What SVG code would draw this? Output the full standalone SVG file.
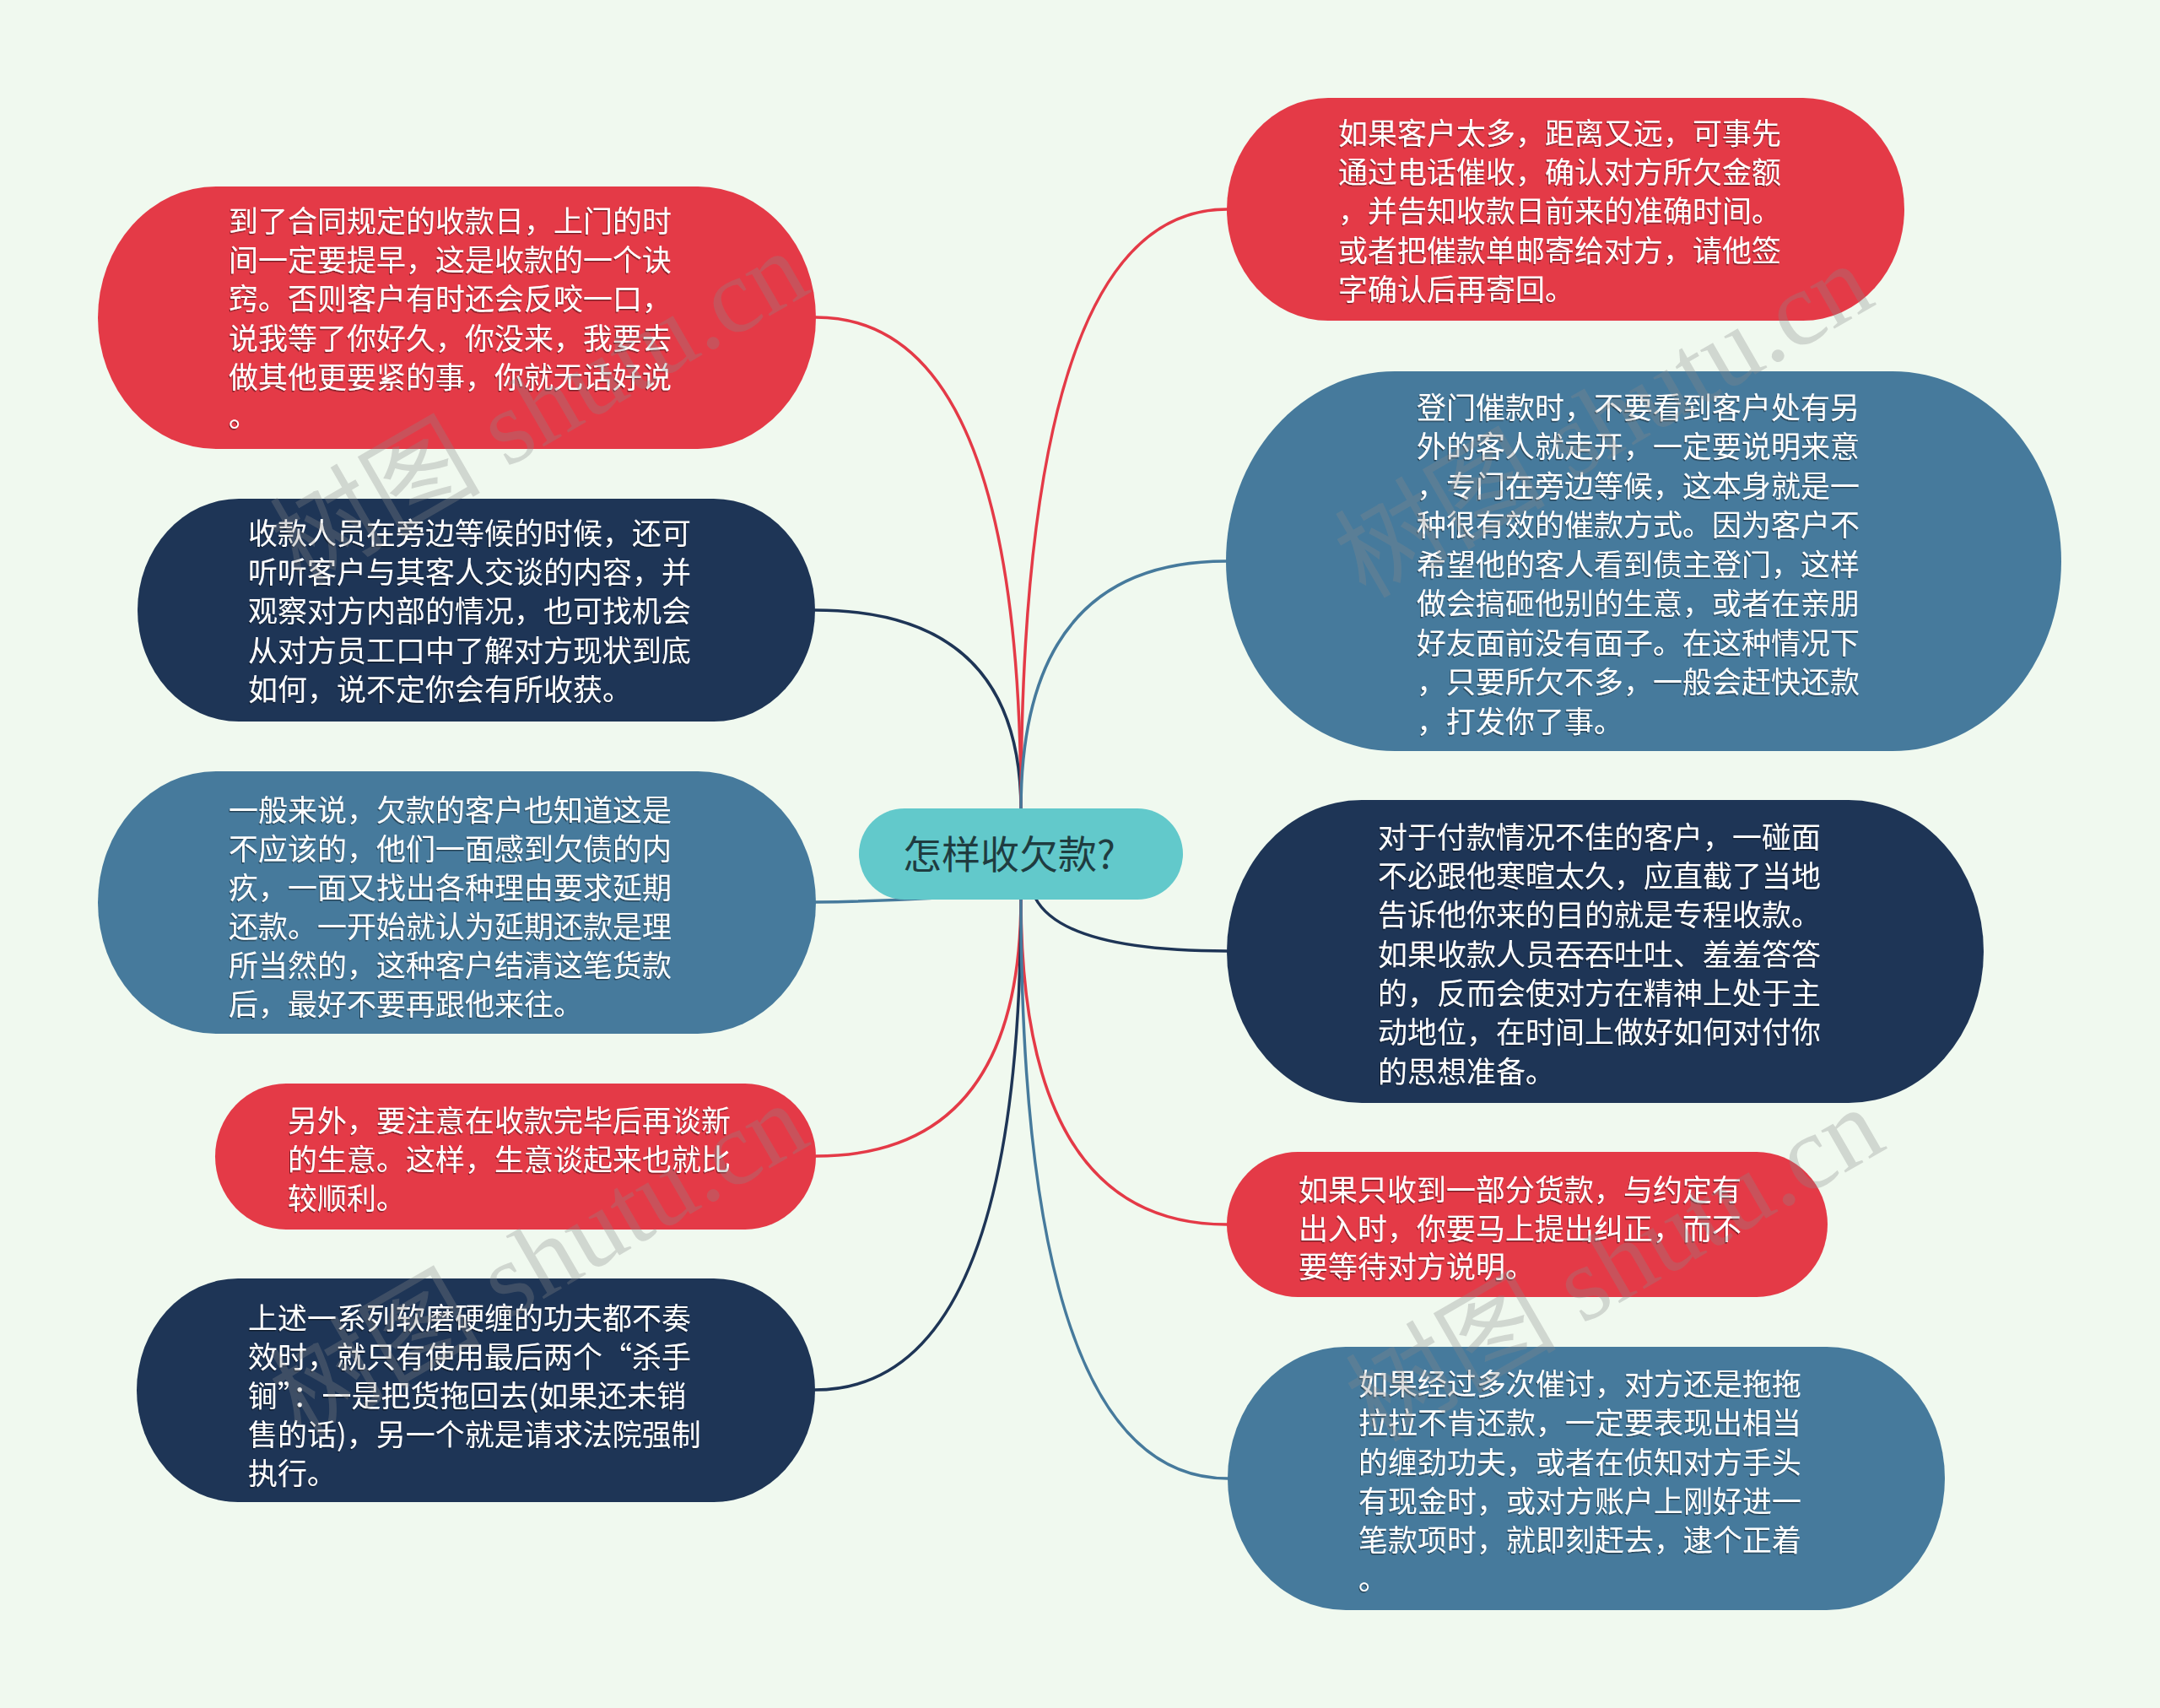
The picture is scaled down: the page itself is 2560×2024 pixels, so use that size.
<svg xmlns="http://www.w3.org/2000/svg" width="2560" height="2024" viewBox="0 0 2560 2024">
<defs>
<style>
.t{font-family:"Noto Sans CJK SC","Liberation Sans",sans-serif;font-size:35px;fill:#ffffff;filter:url(#sh);}
.c{fill:none;stroke-width:3.5;stroke-linecap:round;}
.red{fill:#e43a47;}
.navy{fill:#1e3556;}
.blue{fill:#467a9c;}
.sr{stroke:#e43a47;}
.sn{stroke:#1e3556;}
.sb{stroke:#467a9c;}
.wm{font-family:"Liberation Serif","Noto Sans CJK SC",serif;font-size:125px;fill:#8a8a8a;opacity:0.3;text-anchor:middle;}
</style>
<filter id="sh" x="-5%" y="-20%" width="110%" height="140%">
<feDropShadow dx="-1" dy="1.5" stdDeviation="0.6" flood-color="#000" flood-opacity="0.45"/>
</filter>
</defs>
<rect x="0" y="0" width="2560" height="2024" fill="#f0f9ef"/>
<g id="connectors">
<path class="c sr" d="M1210 960 Q1210 376 967 376"/>
<path class="c sn" d="M1210 960 Q1210 723 966 723"/>
<path class="c sb" d="M1110 1064 Q1040 1068 967 1069"/>
<path class="c sr" d="M1210 1064 Q1210 1370 967 1370"/>
<path class="c sn" d="M1210 1064 Q1210 1647 966 1647"/>
<path class="c sr" d="M1210 960 Q1210 248 1454 248"/>
<path class="c sb" d="M1210 960 Q1210 665 1453 665"/>
<path class="c sn" d="M1227 1064 Q1260 1127 1454 1127"/>
<path class="c sr" d="M1210 1064 Q1210 1451 1454 1451"/>
<path class="c sb" d="M1210 1064 Q1210 1752 1455 1752"/>
</g>
<g id="center">
<rect x="1018" y="958" width="384" height="108" rx="54" ry="54" fill="#62c9cb"/>
<text x="1070" y="1029" font-family="Noto Sans CJK SC, Liberation Sans, sans-serif" font-size="46" fill="#1f3c40">怎样收欠款?</text>
</g>
<g id="left1">
<rect class="red" x="116" y="221" width="851" height="311" rx="140" ry="155.5"/>
<text class="t"><tspan x="271" y="275">到了合同规定的收款日，上门的时</tspan><tspan x="271" y="321">间一定要提早，这是收款的一个诀</tspan><tspan x="271" y="367">窍。否则客户有时还会反咬一口，</tspan><tspan x="271" y="414">说我等了你好久，你没来，我要去</tspan><tspan x="271" y="460">做其他更要紧的事，你就无话好说</tspan><tspan x="271" y="506">。</tspan></text>
</g>
<g id="left2">
<rect class="navy" x="163" y="591" width="803" height="264" rx="120" ry="132"/>
<text class="t"><tspan x="294" y="645">收款人员在旁边等候的时候，还可</tspan><tspan x="294" y="691">听听客户与其客人交谈的内容，并</tspan><tspan x="294" y="737">观察对方内部的情况，也可找机会</tspan><tspan x="294" y="784">从对方员工口中了解对方现状到底</tspan><tspan x="294" y="830">如何，说不定你会有所收获。</tspan></text>
</g>
<g id="left3">
<rect class="blue" x="116" y="914" width="851" height="311" rx="140" ry="155.5"/>
<text class="t"><tspan x="271" y="973">一般来说，欠款的客户也知道这是</tspan><tspan x="271" y="1019">不应该的，他们一面感到欠债的内</tspan><tspan x="271" y="1065">疚，一面又找出各种理由要求延期</tspan><tspan x="271" y="1111">还款。一开始就认为延期还款是理</tspan><tspan x="271" y="1157">所当然的，这种客户结清这笔货款</tspan><tspan x="271" y="1203">后，最好不要再跟他来往。</tspan></text>
</g>
<g id="left4">
<rect class="red" x="255" y="1284" width="712" height="173" rx="84" ry="86.5"/>
<text class="t"><tspan x="341" y="1341">另外，要注意在收款完毕后再谈新</tspan><tspan x="341" y="1387">的生意。这样，生意谈起来也就比</tspan><tspan x="341" y="1433">较顺利。</tspan></text>
</g>
<g id="left5">
<rect class="navy" x="162" y="1515" width="804" height="265" rx="120" ry="132.5"/>
<text class="t"><tspan x="294" y="1575">上述一系列软磨硬缠的功夫都不奏</tspan><tspan x="294" y="1621">效时，就只有使用最后两个“杀手</tspan><tspan x="294" y="1667">锏”：一是把货拖回去(如果还未销</tspan><tspan x="294" y="1713">售的话)，另一个就是请求法院强制</tspan><tspan x="294" y="1759">执行。</tspan></text>
</g>
<g id="right1">
<rect class="red" x="1454" y="116" width="803" height="264" rx="120" ry="132"/>
<text class="t"><tspan x="1586" y="171">如果客户太多，距离又远，可事先</tspan><tspan x="1586" y="217">通过电话催收，确认对方所欠金额</tspan><tspan x="1586" y="263">，并告知收款日前来的准确时间。</tspan><tspan x="1586" y="310">或者把催款单邮寄给对方，请他签</tspan><tspan x="1586" y="356">字确认后再寄回。</tspan></text>
</g>
<g id="right2">
<rect class="blue" x="1453" y="440" width="990" height="450" rx="200" ry="225"/>
<text class="t"><tspan x="1679" y="496">登门催款时，不要看到客户处有另</tspan><tspan x="1679" y="542">外的客人就走开，一定要说明来意</tspan><tspan x="1679" y="589">，专门在旁边等候，这本身就是一</tspan><tspan x="1679" y="635">种很有效的催款方式。因为客户不</tspan><tspan x="1679" y="682">希望他的客人看到债主登门，这样</tspan><tspan x="1679" y="728">做会搞砸他别的生意，或者在亲朋</tspan><tspan x="1679" y="775">好友面前没有面子。在这种情况下</tspan><tspan x="1679" y="821">，只要所欠不多，一般会赶快还款</tspan><tspan x="1679" y="868">，打发你了事。</tspan></text>
</g>
<g id="right3">
<rect class="navy" x="1454" y="948" width="897" height="359" rx="160" ry="179.5"/>
<text class="t"><tspan x="1633" y="1005">对于付款情况不佳的客户，一碰面</tspan><tspan x="1633" y="1051">不必跟他寒暄太久，应直截了当地</tspan><tspan x="1633" y="1097">告诉他你来的目的就是专程收款。</tspan><tspan x="1633" y="1144">如果收款人员吞吞吐吐、羞羞答答</tspan><tspan x="1633" y="1190">的，反而会使对方在精神上处于主</tspan><tspan x="1633" y="1236">动地位，在时间上做好如何对付你</tspan><tspan x="1633" y="1283">的思想准备。</tspan></text>
</g>
<g id="right4">
<rect class="red" x="1454" y="1365" width="712" height="172" rx="84" ry="86"/>
<text class="t"><tspan x="1539" y="1423">如果只收到一部分货款，与约定有</tspan><tspan x="1539" y="1469">出入时，你要马上提出纠正，而不</tspan><tspan x="1539" y="1514">要等待对方说明。</tspan></text>
</g>
<g id="right5">
<rect class="blue" x="1455" y="1596" width="850" height="312" rx="140" ry="156"/>
<text class="t"><tspan x="1610" y="1653">如果经过多次催讨，对方还是拖拖</tspan><tspan x="1610" y="1699">拉拉不肯还款，一定要表现出相当</tspan><tspan x="1610" y="1746">的缠劲功夫，或者在侦知对方手头</tspan><tspan x="1610" y="1792">有现金时，或对方账户上刚好进一</tspan><tspan x="1610" y="1838">笔款项时，就即刻赶去，逮个正着</tspan><tspan x="1610" y="1884">。</tspan></text>
</g>
<g id="watermarks">
<text class="wm" transform="translate(660 520) rotate(-30)">树图 shutu.cn</text>
<text class="wm" transform="translate(1922 535) rotate(-30)">树图 shutu.cn</text>
<text class="wm" transform="translate(660 1530) rotate(-30)">树图 shutu.cn</text>
<text class="wm" transform="translate(1935 1535) rotate(-30)">树图 shutu.cn</text>
</g>
</svg>
